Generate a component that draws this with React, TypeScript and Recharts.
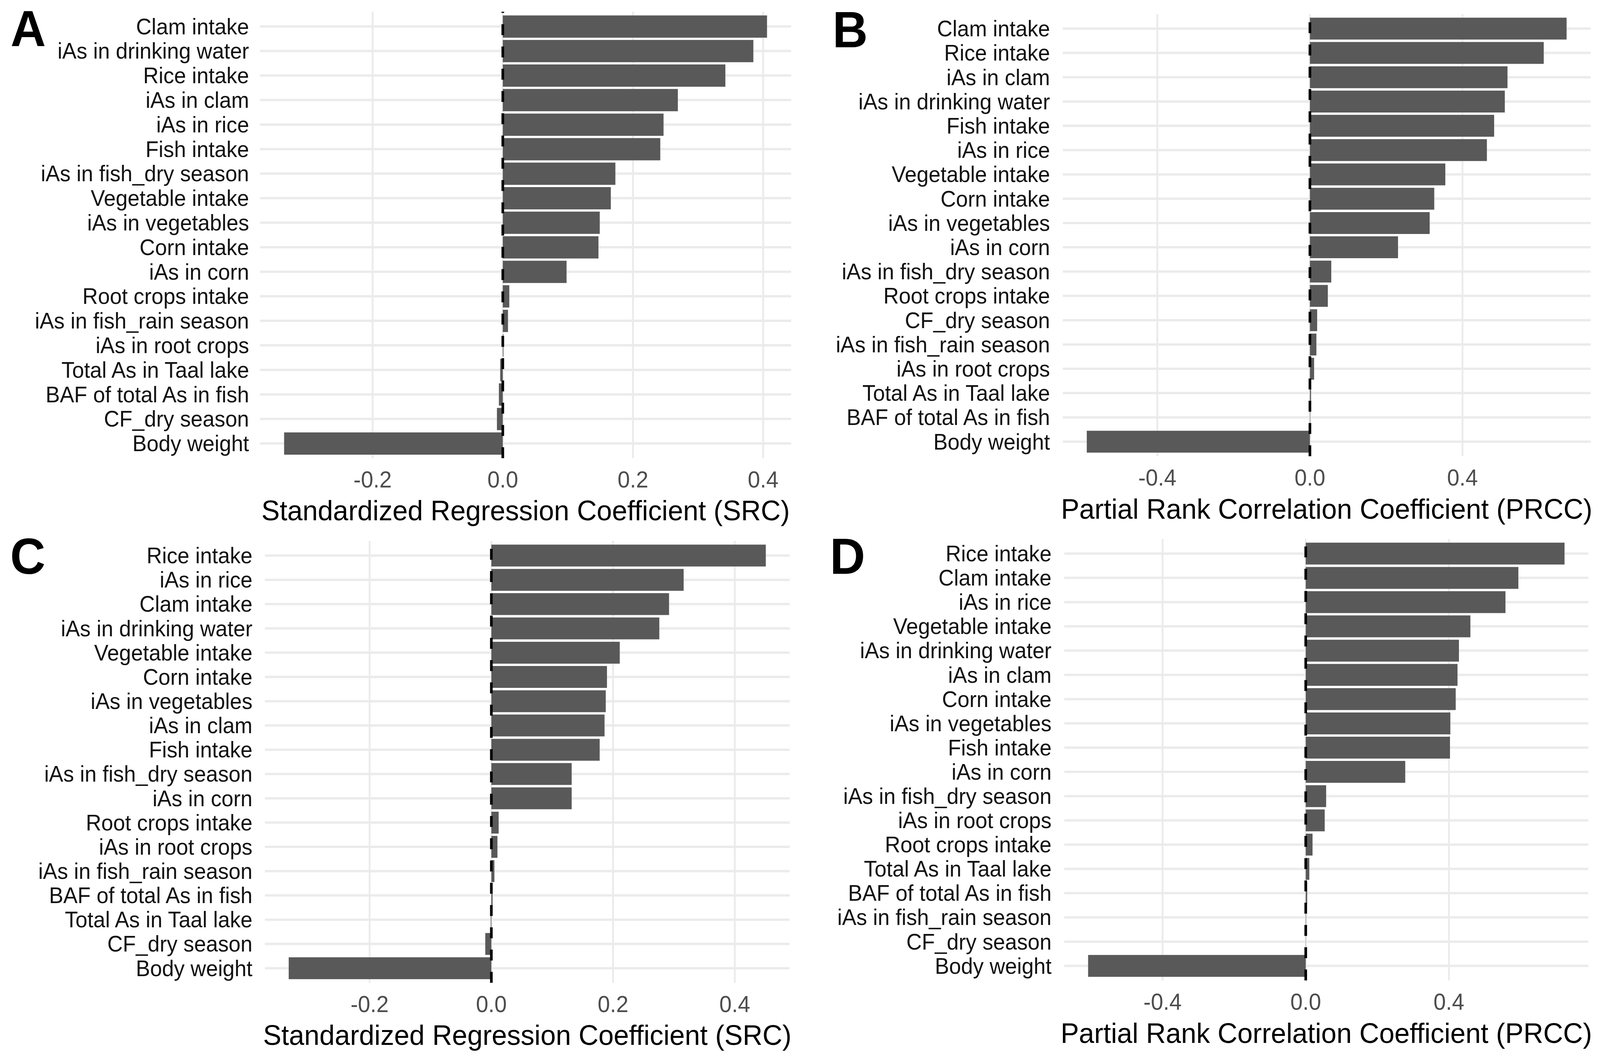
import { BarChart, Bar, XAxis, YAxis, CartesianGrid, ReferenceLine } from 'recharts'

const FIG_W = 4259
const FIG_H = 2706
const FONT = '"Liberation Sans", Arial, Helvetica, sans-serif'
const BAR_FILL = '#595959'
const GRID = '#EBEBEB'

// A: SRC
const srcALabels = [
  'Clam intake', 'iAs in drinking water', 'Rice intake', 'iAs in clam', 'iAs in rice',
  'Fish intake', 'iAs in fish_dry season', 'Vegetable intake', 'iAs in vegetables', 'Corn intake',
  'iAs in corn', 'Root crops intake', 'iAs in fish_rain season', 'iAs in root crops',
  'Total As in Taal lake', 'BAF of total As in fish', 'CF_dry season', 'Body weight',
]
const srcAValues = [
  0.406, 0.385, 0.342, 0.269, 0.247, 0.242, 0.173, 0.166, 0.149, 0.147,
  0.098, 0.010, 0.008, 0.001, -0.004, -0.006, -0.009, -0.336,
]

// B: PRCC
const prccBLabels = [
  'Clam intake', 'Rice intake', 'iAs in clam', 'iAs in drinking water', 'Fish intake',
  'iAs in rice', 'Vegetable intake', 'Corn intake', 'iAs in vegetables', 'iAs in corn',
  'iAs in fish_dry season', 'Root crops intake', 'CF_dry season', 'iAs in fish_rain season',
  'iAs in root crops', 'Total As in Taal lake', 'BAF of total As in fish', 'Body weight',
]
const prccBValues = [
  0.673, 0.613, 0.518, 0.511, 0.483, 0.464, 0.355, 0.326, 0.314, 0.231,
  0.056, 0.047, 0.019, 0.017, 0.011, 0.003, 0.001, -0.585,
]

// C: SRC
const srcCLabels = [
  'Rice intake', 'iAs in rice', 'Clam intake', 'iAs in drinking water', 'Vegetable intake',
  'Corn intake', 'iAs in vegetables', 'iAs in clam', 'Fish intake', 'iAs in fish_dry season',
  'iAs in corn', 'Root crops intake', 'iAs in root crops', 'iAs in fish_rain season',
  'BAF of total As in fish', 'Total As in Taal lake', 'CF_dry season', 'Body weight',
]
const srcCValues = [
  0.451, 0.316, 0.292, 0.276, 0.211, 0.190, 0.188, 0.186, 0.178, 0.132,
  0.132, 0.012, 0.010, 0.005, 0.002, -0.001, -0.010, -0.333,
]

// D: PRCC
const prccDLabels = [
  'Rice intake', 'Clam intake', 'iAs in rice', 'Vegetable intake', 'iAs in drinking water',
  'iAs in clam', 'Corn intake', 'iAs in vegetables', 'Fish intake', 'iAs in corn',
  'iAs in fish_dry season', 'iAs in root crops', 'Root crops intake', 'Total As in Taal lake',
  'BAF of total As in fish', 'iAs in fish_rain season', 'CF_dry season', 'Body weight',
]
const prccDValues = [
  0.723, 0.594, 0.558, 0.460, 0.428, 0.424, 0.419, 0.404, 0.403, 0.278,
  0.057, 0.053, 0.019, 0.010, 0.004, 0.001, 0.0005, -0.608,
]

const srcTicks = [-0.2, 0, 0.2, 0.4]
const srcMinor = [-0.3, -0.1, 0.1, 0.3]
const prccTicks = [-0.4, 0, 0.4]
const prccMinor = [-0.6, -0.2, 0.2, 0.6]

const SRC_TITLE = 'Standardized Regression Coefficient (SRC)'
const PRCC_TITLE = 'Partial Rank Correlation Coefficient (PRCC)'

type Box = { left: number; top: number; width: number; height: number }
type Plot = { left: number; right: number; top: number; bottom: number }

function XTick({ x, y, payload }: any) {
  return (
    <text x={x} y={y + 55} textAnchor="middle" dominantBaseline="central"
      fontSize={59} fill="#4D4D4D" fontFamily={FONT}>
      {Number(payload.value).toFixed(1)}
    </text>
  )
}

function makeYTick(gap: number) {
  return ({ x, y, payload }: any) => (
    <text x={x} y={y} dx={-gap} textAnchor="end" dominantBaseline="central"
      fontSize={57} fill="#111111" fontFamily={FONT}>
      {payload.value}
    </text>
  )
}

function Panel({ letter, letterX, letterTop, labels, values, ticks, minor, title, titleOffset, box, plot, gap }: {
  letter: string
  letterX: number
  letterTop: number
  labels: string[]
  values: number[]
  ticks: number[]
  minor: number[]
  title: string
  titleOffset: number
  box: Box
  plot: Plot
  gap: number
}) {
  const data = labels.map((name, i) => ({ name, value: values[i] }))
  const lo = Math.min(...values)
  const hi = Math.max(...values)
  const span = hi - lo
  const domain: [number, number] = [lo - 0.05 * span, hi + 0.05 * span]
  const plotH = plot.bottom - plot.top
  const band = plotH / (labels.length + 0.2)
  const pad = band * 0.1
  const YTick = makeYTick(gap)

  // horizontal grid through the middle of each category band (ggplot style)
  const rowLines = ({ yAxis, offset }: any) => {
    const s = yAxis?.scale
    if (typeof s === 'function' && typeof s.bandwidth === 'function') {
      return labels.map(l => s(l) + s.bandwidth() / 2)
    }
    const top = offset?.top ?? plot.top - box.top
    return labels.map((_, i) => top + pad + band * (i + 0.5))
  }

  return (
    <div style={{ position: 'absolute', left: box.left, top: box.top, width: box.width, height: box.height }}>
      <BarChart
        width={box.width}
        height={box.height}
        data={data}
        layout="vertical"
        barCategoryGap="5%"
        margin={{ top: plot.top - box.top, right: box.left + box.width - plot.right, bottom: 0, left: 0 }}
      >
        <CartesianGrid xAxisId="minor" horizontal={false} syncWithTicks stroke="#F0F0F0" strokeWidth={4} />
        <CartesianGrid horizontal={false} syncWithTicks stroke={GRID} strokeWidth={5} />
        <CartesianGrid vertical={false} syncWithTicks horizontalCoordinatesGenerator={rowLines} stroke={GRID} strokeWidth={6} />
        <XAxis
          type="number"
          domain={domain}
          ticks={ticks}
          interval={0}
          axisLine={false}
          tickLine={false}
          tickSize={0}
          tickMargin={0}
          tick={<XTick />}
          height={box.top + box.height - plot.bottom}
          label={{ value: title, position: 'insideBottom', offset: titleOffset, fill: '#000000', fontSize: 73, fontFamily: FONT }}
        />
        <XAxis xAxisId="minor" type="number" domain={domain} ticks={minor} interval={0} hide />
        <YAxis
          type="category"
          dataKey="name"
          width={plot.left - box.left}
          interval={0}
          axisLine={false}
          tickLine={false}
          tickSize={0}
          tickMargin={0}
          padding={{ top: pad, bottom: pad }}
          tick={<YTick />}
        />
        <Bar dataKey="value" fill={BAR_FILL} isAnimationActive={false} />
        <ReferenceLine x={0} stroke="#000000" strokeWidth={7} strokeDasharray="28 29" />
      </BarChart>
      <div style={{
        position: 'absolute', left: letterX, top: letterTop,
        fontFamily: FONT, fontWeight: 700, fontSize: 130, lineHeight: 1, color: '#000',
      }}>
        {letter}
      </div>
    </div>
  )
}

export default function App() {
  // fit the figure to the visible page
  const vw = typeof window !== 'undefined' && window.innerWidth > 0 ? window.innerWidth : FIG_W
  const vh = typeof window !== 'undefined' && window.innerHeight > 0 ? window.innerHeight : FIG_H
  const sx = Math.min(vw / FIG_W, 1)
  const sy = Math.min(vh / FIG_H, 1)

  return (
    <div style={{
      position: 'absolute', left: 0, top: 0, width: FIG_W, height: FIG_H,
      background: '#ffffff', overflow: 'hidden',
      transform: `scale(${sx}, ${sy})`, transformOrigin: '0 0',
    }}>
      <Panel
        letter="A" letterX={28} letterTop={8}
        labels={srcALabels} values={srcAValues} ticks={srcTicks} minor={srcMinor}
        title={SRC_TITLE} titleOffset={21} gap={29}
        box={{ left: 0, top: 0, width: 2130, height: 1353 }}
        plot={{ left: 692, right: 2106, top: 30, bottom: 1173 }}
      />
      <Panel
        letter="B" letterX={86} letterTop={11}
        labels={prccBLabels} values={prccBValues} ticks={prccTicks} minor={prccMinor}
        title={PRCC_TITLE} titleOffset={25} gap={34}
        box={{ left: 2130, top: 0, width: 2129, height: 1353 }}
        plot={{ left: 2829, right: 4234, top: 36, bottom: 1168 }}
      />
      <Panel
        letter="C" letterX={27} letterTop={6}
        labels={srcCLabels} values={srcCValues} ticks={srcTicks} minor={srcMinor}
        title={SRC_TITLE} titleOffset={31} gap={33}
        box={{ left: 0, top: 1353, width: 2130, height: 1353 }}
        plot={{ left: 705, right: 2102, top: 1385, bottom: 2516 }}
      />
      <Panel
        letter="D" letterX={79} letterTop={6}
        labels={prccDLabels} values={prccDValues} ticks={prccTicks} minor={prccMinor}
        title={PRCC_TITLE} titleOffset={36} gap={34}
        box={{ left: 2130, top: 1353, width: 2129, height: 1353 }}
        plot={{ left: 2833, right: 4228, top: 1380, bottom: 2510 }}
      />
    </div>
  )
}
